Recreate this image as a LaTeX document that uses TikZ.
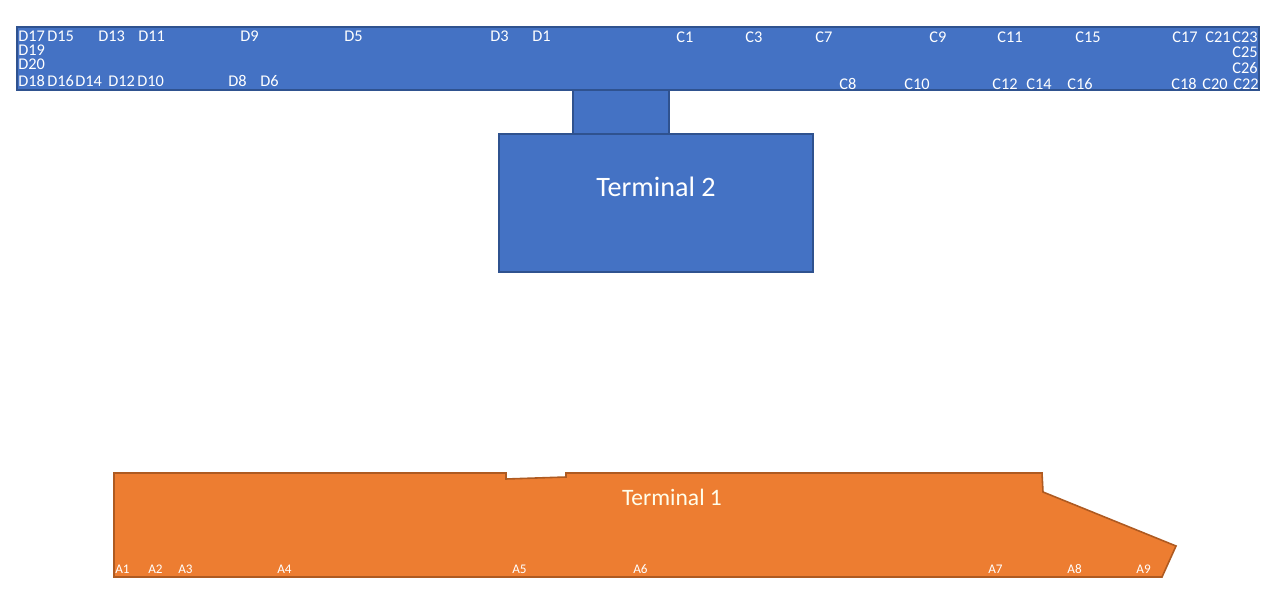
\documentclass[tikz,border=0pt]{standalone}
\usepackage{fontspec}
\setmainfont{Carlito}
\definecolor{tblue}{HTML}{4472C4}
\definecolor{tblueline}{HTML}{2F528F}
\definecolor{torange}{HTML}{ED7D31}
\definecolor{torangeline}{HTML}{AE5A21}
\tikzset{
  gate/.style={text=white,inner sep=0pt,anchor=west,font=\fontsize{9.3}{9.3}\selectfont},
  agate/.style={text=white,inner sep=0pt,anchor=west,font=\fontsize{7.5}{7.5}\selectfont},
  bluepart/.style={fill=tblue,draw=tblueline,line width=1.5pt},
  orangepart/.style={fill=torange,draw=torangeline,line width=0.9pt}
}
\begin{document}
\begin{tikzpicture}[x=0.02cm,y=-0.02cm]
                \useasboundingbox (0,0) rectangle (1280,614);
                \coordinate (P1) at (114,473);
                \coordinate (P2) at (506,473);
                \coordinate (P3) at (506,479);
                \coordinate (P4) at (566,477);
                \coordinate (P5) at (566,473);
                \coordinate (P6) at (1042,473);
                \coordinate (P7) at (1043,492);
                \coordinate (P8) at (1176,546);
                \coordinate (P9) at (1162,577);
                \coordinate (P10) at (114,577);
                \draw[bluepart] (17,27) rectangle (1259,90);
                \draw[bluepart] (573,90) rectangle (669,134);
                \draw[bluepart] (499,134) rectangle (813,272);
                \draw[orangepart] (P1) -- (P2) -- (P3) -- (P4) -- (P5) -- (P6) -- (P7) -- (P8) -- (P9) -- (P10) -- cycle;
                \node[text=white,font=\fontsize{16}{16}\selectfont] (t2) at (656,187) {Terminal 2};
                \node[text=white!92!yellow,font=\fontsize{13.4}{13.4}\selectfont] (t1) at (672,497) {Terminal 1};
                % D gates
                \node[gate] (d17) at (18,36) {D17};
                \node[gate] (d15) at (47,36) {D15};
                \node[gate] (d13) at (98,36) {D13};
                \node[gate] (d11) at (138,36) {D11};
                \node[gate] (d9) at (240,36) {D9};
                \node[gate] (d5) at (344,36) {D5};
                \node[gate] (d3) at (490,36) {D3};
                \node[gate] (d1) at (532,36) {D1};
                \node[gate] (d19) at (18,50) {D19};
                \node[gate] (d20) at (18,64) {D20};
                \node[gate] (d18) at (18,81) {D18};
                \node[gate] (d16) at (47,81) {D16};
                \node[gate] (d14) at (75,81) {D14};
                \node[gate] (d12) at (108,81) {D12};
                \node[gate] (d10) at (137,81) {D10};
                \node[gate] (d8) at (228,81) {D8};
                \node[gate] (d6) at (260,81) {D6};
                % C gates
                \node[gate] (c1) at (676,37) {C1};
                \node[gate] (c3) at (745,37) {C3};
                \node[gate] (c7) at (815,37) {C7};
                \node[gate] (c9) at (929,37) {C9};
                \node[gate] (c11) at (997,37) {C11};
                \node[gate] (c15) at (1075,37) {C15};
                \node[gate] (c17) at (1172,37) {C17};
                \node[gate] (c21) at (1205,37) {C21};
                \node[gate] (c23) at (1232,37) {C23};
                \node[gate] (c25) at (1232,52) {C25};
                \node[gate] (c26) at (1232,68) {C26};
                \node[gate] (c8) at (839,84) {C8};
                \node[gate] (c10) at (904,84) {C10};
                \node[gate] (c12) at (992,84) {C12};
                \node[gate] (c14) at (1026,84) {C14};
                \node[gate] (c16) at (1067,84) {C16};
                \node[gate] (c18) at (1171,84) {C18};
                \node[gate] (c20) at (1202,84) {C20};
                \node[gate] (c22) at (1233,84) {C22};
                % A gates
                \node[agate] (a1) at (115,569) {A1};
                \node[agate] (a2) at (148,569) {A2};
                \node[agate] (a3) at (178,569) {A3};
                \node[agate] (a4) at (277,569) {A4};
                \node[agate] (a5) at (512,569) {A5};
                \node[agate] (a6) at (633,569) {A6};
                \node[agate] (a7) at (988,569) {A7};
                \node[agate] (a8) at (1067,569) {A8};
                \node[agate] (a9) at (1136,569) {A9};
            \end{tikzpicture}
\end{document}
